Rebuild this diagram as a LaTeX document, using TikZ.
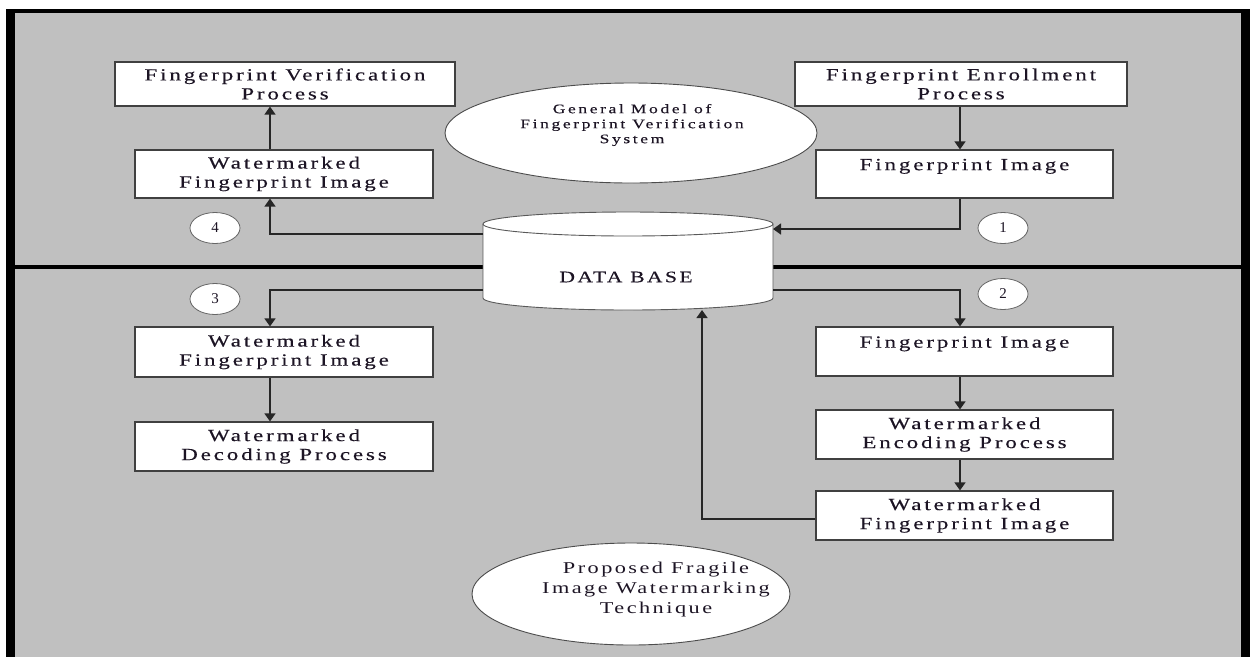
\documentclass[tikz,border=0pt]{standalone}
\usepackage{fontspec}
\setmainfont{Liberation Serif}
\newfontfamily\boxfont[FakeStretch=1.35,LetterSpace=17,FakeBold=0.3]{Liberation Serif}
\newfontfamily\noteafont[FakeStretch=1.35,LetterSpace=20,FakeBold=0.3]{Liberation Serif}
\newfontfamily\notebfont[FakeStretch=1.35,LetterSpace=15]{Liberation Serif}
\newfontfamily\capfont[FakeStretch=1.35,LetterSpace=15,FakeBold=0.3]{Liberation Serif}
\usetikzlibrary{arrows.meta,shapes.geometric}
\definecolor{panelgray}{HTML}{C0C0C0}
\definecolor{inkcol}{HTML}{1C1424}
\begin{document}
\begin{tikzpicture}[x=1pt,y=-1pt,
  procbox/.style={draw=black!75, line width=1.2pt, fill=white, align=center,
    inner sep=0pt, text=inkcol, font=\boxfont\fontsize{17}{19}\selectfont},
  conn/.style={draw=black!85, line width=1.4pt, -{Triangle[width=11pt,length=8pt]}},
  stepnum/.style={ellipse, draw=black!60, line width=0.8pt, fill=white,
    minimum width=50pt, minimum height=31pt, inner sep=0pt, text=inkcol,
    font=\fontsize{15}{15}\selectfont},
  bubble/.style={ellipse, draw=black!70, line width=0.9pt, fill=white, inner sep=0pt},
  bubbletext/.style={align=center, text=inkcol, inner sep=0pt}
]
\useasboundingbox (0,0) rectangle (1250,657);
\fill[white] (0,0) rectangle (1250,657);
% frame and panel
\fill[black] (6,9) rectangle (1250,657);
\fill[panelgray] (15,13) rectangle (1241,657);
\fill[black] (15,265) rectangle (1241,269);

% upper half: verification
\node[procbox, minimum width=340pt, minimum height=44pt] (fvp) at (285,84)
  {Fingerprint Verification\\Process};
\node[procbox, minimum width=332pt, minimum height=44pt] (fep) at (961,84)
  {Fingerprint Enrollment\\Process};
\node[procbox, minimum width=298pt, minimum height=48pt] (wfitop) at (284,174)
  {Watermarked\\Fingerprint Image};
\node[procbox, minimum width=297pt, minimum height=48pt] (fitop) at (964.5,174)
  {Fingerprint Image\\\mbox{}};

\node[bubble, minimum width=372pt, minimum height=100pt] (gm) at (631,133) {};
\node[bubbletext, font=\noteafont\fontsize{13}{15}\selectfont] (gmtext) at (632,125)
  {General Model of\\Fingerprint Verification\\System};

% database cylinder
\fill[white] (483,224) -- (483,298)
  arc[start angle=180, end angle=360, x radius=145pt, y radius=12pt]
  -- (773,224)
  arc[start angle=0, end angle=180, x radius=145pt, y radius=12pt] -- cycle;
\draw[black!65, line width=0.9pt] (483,224) -- (483,298)
  arc[start angle=180, end angle=360, x radius=145pt, y radius=12pt] -- (773,224);
\draw[black!65, line width=0.9pt] (628,224) ellipse[x radius=145pt, y radius=12pt];
\node[text=inkcol, font=\capfont\fontsize{16}{16}\selectfont, inner sep=0pt] (db) at (626,277) {DATA BASE};
\coordinate (dbR1) at (773,229);
\coordinate (dbL1) at (483,234);
\coordinate (dbL2) at (483,290);
\coordinate (dbR2) at (773,290);
\coordinate (dbB) at (702,310);

% lower half: watermarking
\node[procbox, minimum width=298pt, minimum height=50pt] (wfilow) at (284,352)
  {Watermarked\\Fingerprint Image};
\node[procbox, minimum width=298pt, minimum height=49pt] (wdp) at (284,446.5)
  {Watermarked\\Decoding Process};
\node[procbox, minimum width=297pt, minimum height=49pt] (filow) at (964.5,351.5)
  {Fingerprint Image\\\mbox{}};
\node[procbox, minimum width=297pt, minimum height=49pt] (wep) at (964.5,434.5)
  {Watermarked\\Encoding Process};
\node[procbox, minimum width=297pt, minimum height=49pt] (wfiout) at (964.5,515.5)
  {Watermarked\\Fingerprint Image};

\node[bubble, minimum width=318pt, minimum height=102pt] (pf) at (631,594) {};
\node[bubbletext, font=\notebfont\fontsize{16.5}{20}\selectfont] (pftext) at (656,590)
  {Proposed Fragile\\Image Watermarking\\Technique};

% step markers
\node[stepnum] (s4) at (215,228) {4};
\node[stepnum] (s3) at (215,299) {3};
\node[stepnum] (s1) at (1003,228) {1};
\node[stepnum] (s2) at (1003,294) {2};

% connectors
\draw[conn] ([xshift=-14pt]wfitop.north) -- ([xshift=-14pt]wfitop.north |- fvp.south);
\draw[conn] ([xshift=-1pt]fep.south) -- ([xshift=-1pt]fep.south |- fitop.north);
\draw[conn] ([xshift=-4.5pt]fitop.south) |- (dbR1);
\draw[conn] (dbL1) -| ([xshift=-14pt]wfitop.south);
\draw[conn] (dbL2) -| ([xshift=-14pt]wfilow.north);
\draw[conn] (dbR2) -| ([xshift=-4.5pt]filow.north);
\draw[conn] ([xshift=-14pt]wfilow.south) -- ([xshift=-14pt]wfilow.south |- wdp.north);
\draw[conn] ([xshift=-4.5pt]filow.south) -- ([xshift=-4.5pt]filow.south |- wep.north);
\draw[conn] ([xshift=-4.5pt]wep.south) -- ([xshift=-4.5pt]wep.south |- wfiout.north);
\draw[conn] ([yshift=-3.5pt]wfiout.west) -| (dbB);
\end{tikzpicture}
\end{document}
